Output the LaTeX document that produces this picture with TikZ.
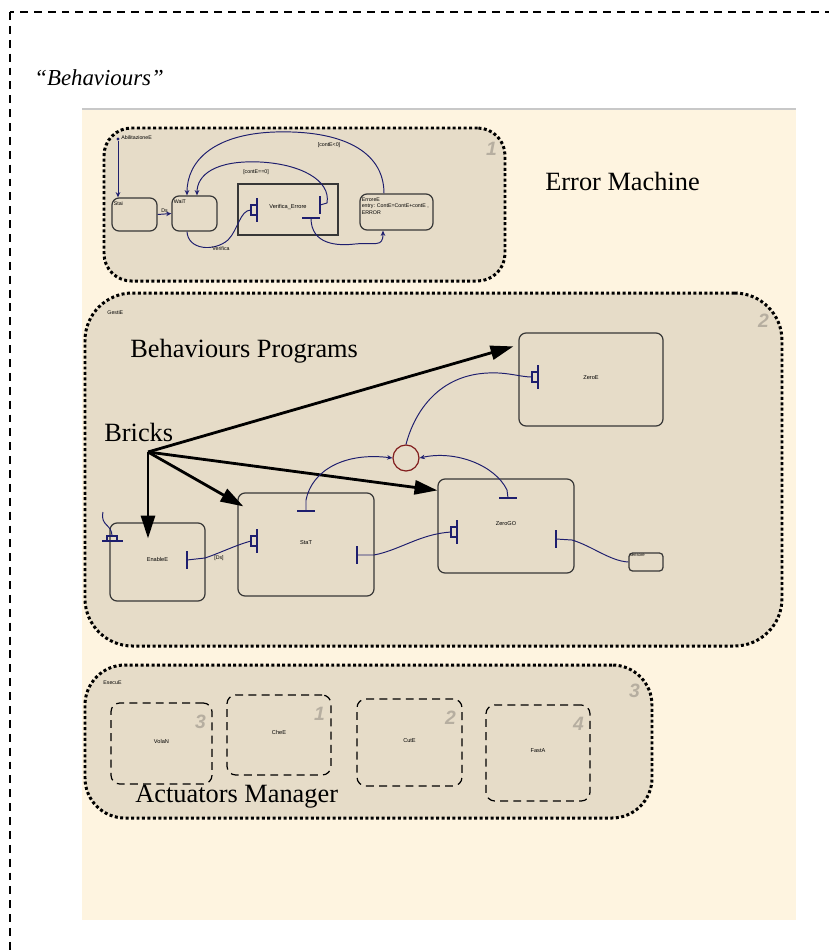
\documentclass[tikz,border=0pt]{standalone}
\usepackage{fontspec}
\setmainfont{Liberation Serif}
\setsansfont{Liberation Sans}
\usepackage{tikz}
\usetikzlibrary{arrows.meta,fit,positioning}
\definecolor{panelcream}{RGB}{254,244,224}
\definecolor{panelline}{RGB}{200,200,200}
\definecolor{regionbeige}{RGB}{230,220,200}
\definecolor{wirenavy}{RGB}{30,30,110}
\definecolor{numgrey}{RGB}{182,174,160}
\definecolor{junctionred}{RGB}{130,30,30}
\definecolor{boxgrey}{RGB}{55,55,55}

\tikzset{
  framedash/.style={draw=black, line width=1.1pt, dash pattern=on 4.5pt off 3.4pt},
  region/.style={fill=regionbeige, draw=black, line width=1.7pt,
    dash pattern=on 1.7pt off 1.4pt, inner sep=0pt},
  statebox/.style={draw=boxgrey, line width=0.7pt, rounded corners=4pt,
    inner sep=0pt, font=\sffamily\fontsize{3.2}{3.8}\selectfont},
  actbox/.style={draw=black, line width=0.7pt, dash pattern=on 4.5pt off 3pt,
    rounded corners=5pt, inner sep=0pt, font=\sffamily\fontsize{3.2}{3.8}\selectfont},
  tinylabel/.style={font=\sffamily\fontsize{3}{3.6}\selectfont, inner sep=0.6pt},
  biglabel/.style={font=\fontsize{15}{18}\selectfont, inner sep=0pt},
  regionnum/.style={font=\sffamily\bfseries\itshape\fontsize{11}{11}\selectfont,
    text=numgrey, inner sep=0pt},
  wire/.style={draw=wirenavy, line width=0.55pt},
  wiretip/.style={-{Stealth[length=3pt,width=2.6pt]}},
  portline/.style={draw=wirenavy, line width=0.6pt},
  brickarrow/.style={draw=black, line width=1.6pt,
    -{Triangle[length=13pt,width=8pt]}}
}

\begin{document}
\begin{tikzpicture}[x=0.02cm, y=-0.02cm]
  \useasboundingbox (0,0) rectangle (829,951);
  \clip (0,0) rectangle (829,951);

  % outer frame and panel
  \draw[framedash] (10,12) rectangle (880,990);
  \fill[panelcream] (82,109) rectangle (796,920);
  \draw[panelline, line width=1.1pt] (82,109) -- (796,109);
  \node[font=\itshape\fontsize{13}{15}\selectfont, anchor=west, inner sep=0pt]
    (behav) at (34,78) {“Behaviours”};

  % the three regions
  \node[region, rounded corners=0.55cm, fit={(104,128) (505,281)}] (errreg) {};
  \node[region, rounded corners=0.95cm, fit={(85,293) (782,646)}] (progreg) {};
  \node[region, rounded corners=0.8cm, fit={(85,665) (652,818)}] (actreg) {};
  \node[regionnum] (errnum) at ([shift={(-15,22)}]errreg.north east) {1};
  \node[regionnum] (prognum) at ([shift={(-20,29)}]progreg.north east) {2};
  \node[regionnum] (actnum) at ([shift={(-19,27)}]actreg.north east) {3};

  \node[biglabel, anchor=west] (errlbl) at (545,181) {Error Machine};
  \node[biglabel, anchor=west] (proglbl) at (130,351) {Behaviours Programs};
  \node[biglabel, anchor=west] (bricks) at (104,432) {Bricks};
  \node[biglabel, anchor=west] (actlbl) at (135,797) {Actuators Manager};
  \node[tinylabel, anchor=west] (gestlbl) at (106,313) {GestiE};
  \node[tinylabel, anchor=west] (eseclbl) at (102,683) {EsecuE};

  % error machine states
  \node[statebox, fit={(112,198) (157,231)}] (stai) {};
  \node[tinylabel, anchor=north west] (stailbl) at ([shift={(1,3)}]stai.north west) {Stai};
  \node[statebox, fit={(172,196) (217,231)}] (wait) {};
  \node[tinylabel, anchor=north west] (waitlbl) at ([shift={(1,3)}]wait.north west) {WaiT};
  \node[draw=boxgrey, line width=0.7pt, inner sep=0pt, fit={(238,184) (338,235)},
    font=\sffamily\fontsize{3.2}{3.8}\selectfont] (verif) {Verifica\_Errore};
  \node[statebox, fit={(360,194) (433,230)}] (errore) {};
  \node[tinylabel, anchor=north west, align=left] (errorelbl) at ([shift={(1,3)}]errore.north west)
    {ErroreE\\entry: ContE=ContE+contE ,\\ERROR};
  \node[circle, fill=wirenavy, inner sep=0.7pt] (init) at (118,139) {};
  \node[tinylabel, anchor=west] (initlbl) at (120,138) {AbilitazioneE};

  % behaviour program states
  \node[statebox, fit={(519,333) (663,426)}] (zero) {ZeroE};
  \node[statebox, fit={(238,493) (374,596)}] (stat) {StaT};
  \node[statebox, fit={(110,523) (205,601)}] (enable) {EnableE};
  \node[statebox, fit={(438,479) (574,573)}] (zerogo) {ZeroGO};
  \node[statebox, rounded corners=2pt, fit={(629,553) (663,571)}] (sensor) {};
  \node[tinylabel, anchor=north west, font=\sffamily\fontsize{2.4}{3}\selectfont]
    (sensorlbl) at (sensor.north west) {sensore};
  \node[circle, draw=junctionred, line width=0.7pt, minimum size=0.52cm,
    inner sep=0pt] (junction) at (406,458) {};

  % ports: entry (bar + box), exit (bar), top (flat bar)
  \foreach \px/\py/\pname in {257/210/verin, 257/541/statin, 457/532/zerogoin, 538/377/zeroin}{
    \draw[portline] (\px,\py-12) -- (\px,\py+12);
    \draw[portline] (\px-6,\py-5) rectangle (\px,\py+5);
    \coordinate (\pname) at (\px-6,\py);
  }
  \foreach \px/\py/\pname in {320/205/verout, 187/560/enableout, 357/555/statout, 556/539/zerogoout}{
    \draw[portline] (\px,\py-9) -- (\px,\py+9);
    \coordinate (\pname) at (\px,\py);
  }
  \foreach \px/\py/\pname in {306/511/stattop, 508/498/zerogotop, 311/218/verbottom}{
    \draw[portline] (\px-9,\py) -- (\px+9,\py);
    \coordinate (\pname) at (\px,\py);
  }
  \draw[portline] (102,541) -- (123,541);
  \draw[portline] (107,536) rectangle (117,541);
  \coordinate (enablein) at (112,536);
  \coordinate (enablefeed) at (103,512);

  % error machine transitions
  \draw[wire, wiretip] (init) -- (init |- stai.north);
  \draw[wire, wiretip] (stai.east) -- (wait.west)
    node[midway, above, tinylabel] (dslbl) {Ds};
  \draw[wire] ([shift={(-7.5,0)}]wait.south) .. controls (188,250) and (214,252) .. (228,240)
    .. controls (238,230) and (240,210) .. (verin);
  \node[tinylabel] (veriflbl) at (221,249) {Verifica};
  \draw[wire, wiretip] (verout) -- (327,203) .. controls (331,180) and (300,164) .. (260,162)
    .. controls (215,160) and (197,175) .. ([shift={(2.5,0)}]wait.north);
  \node[tinylabel] (eqlbl) at (256,172) {[contE==0]};
  \draw[wire, wiretip] (verbottom) .. controls (311,245) and (338,246) .. (355,244)
    .. controls (375,242) and (383,248) .. ([shift={(-13.5,0)}]errore.south);
  \draw[wire, wiretip] ([shift={(-12.5,0)}]errore.north) .. controls (384,150) and (340,130) .. (275,132)
    .. controls (215,134) and (187,160) .. ([shift={(-7.5,0)}]wait.north);
  \node[tinylabel] (ltlbl) at (329,145) {[contE<0]};

  % bricks
  \coordinate (hub) at (148,452);
  \coordinate (enabletop) at (hub |- enable.north);
  \draw[brickarrow] (hub) -- ([shift={(-5,14)}]zero.north west);
  \draw[brickarrow] (hub) -- ([shift={(0,12)}]zerogo.north west);
  \draw[brickarrow] (hub) -- ([shift={(6,14)}]stat.north west);
  \draw[brickarrow] (hub) -- ([shift={(0,16)}]enabletop);

  % program wiring
  \draw[wire] (enablefeed) .. controls (100,526) and (112,524) .. (enablein);
  \draw[wire] (enableout) -- (205,558) .. controls (220,553) and (236,545) .. (statin);
  \node[tinylabel] (dslbl2) at (219,558) {[Ds]};
  \draw[wire, wiretip] (stattop) -- (306,500) .. controls (312,470) and (345,452) .. (junction.west);
  \draw[wire] (junction.north) .. controls (415,410) and (440,375) .. (488,373)
    .. controls (508,372) and (520,377) .. (zeroin);
  \draw[wire, wiretip] (zerogotop) -- (507,490) .. controls (495,465) and (455,450) .. (junction.east);
  \draw[wire] (statout) -- (374,555) .. controls (400,550) and (420,534) .. (zerogoin);
  \draw[wire] (zerogoout) -- (572,540) .. controls (592,546) and (610,561) .. (sensor.west);

  % actuators
  \foreach \name/\txt/\num/\xa/\ya/\xb/\yb in {
    vola/VolaN/3/111/703/212/784,
    che/CheE/1/227/695/331/775,
    cut/CutE/2/357/699/462/786,
    fast/FastA/4/486/705/590/801
  }{
    \node[actbox, fit={(\xa,\ya) (\xb,\yb)}] (\name) {\txt};
    \node[regionnum] (\name-num) at ([shift={(-12,19)}]\name.north east) {\num};
  }
\end{tikzpicture}
\end{document}
